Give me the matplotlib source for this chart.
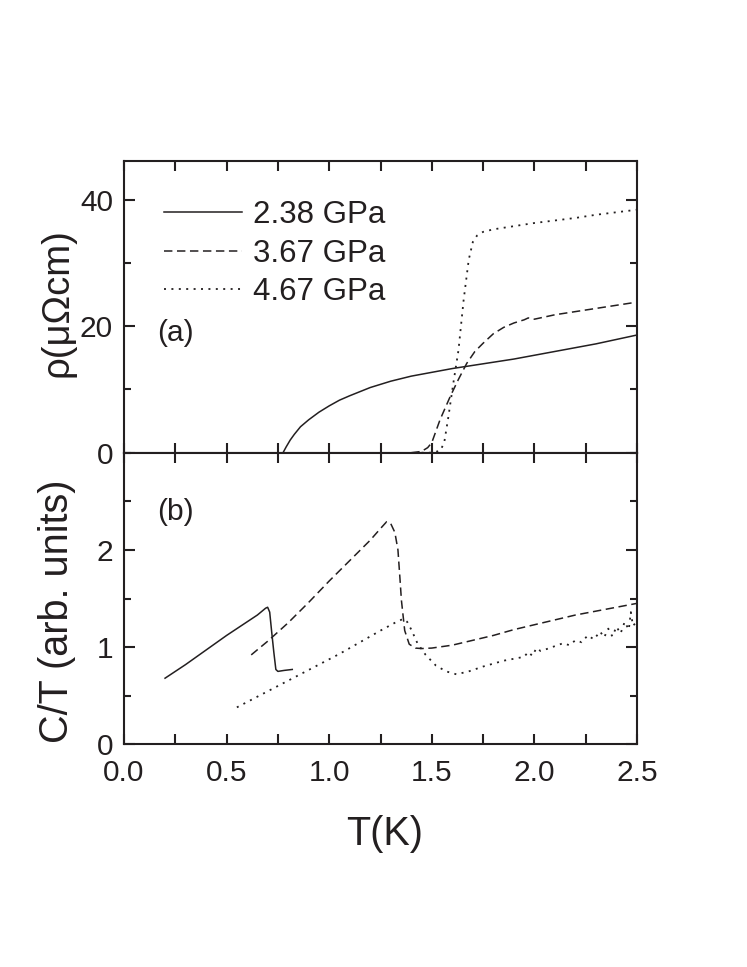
import matplotlib
matplotlib.use("Agg")
import matplotlib.pyplot as plt
from matplotlib.ticker import MultipleLocator

plt.rcParams['font.family'] = ['Liberation Sans', 'DejaVu Sans']
INK = '#231f20'

# ---------------- data: (a) resistivity ----------------
rho_labels = ["2.38 GPa", "3.67 GPa", "4.67 GPa"]

T_rho_238 = [0.775, 0.79, 0.81, 0.83, 0.86, 0.90, 0.95, 1.00, 1.05, 1.10, 1.20, 1.30,
             1.40, 1.50, 1.60, 1.70, 1.80, 1.90, 2.00, 2.10, 2.20, 2.30, 2.40, 2.50]
rho_238 = [0.0, 0.9, 2.0, 2.9, 4.1, 5.2, 6.4, 7.4, 8.3, 9.0, 10.3, 11.3,
           12.1, 12.7, 13.3, 13.8, 14.3, 14.8, 15.4, 16.0, 16.6, 17.2, 17.9, 18.6]

T_rho_367 = [1.40, 1.45, 1.48, 1.50, 1.54, 1.59, 1.63, 1.67, 1.71, 1.75, 1.80, 1.85,
             1.90, 1.95, 1.97, 2.00, 2.10, 2.20, 2.30, 2.40, 2.50]
rho_367 = [0.0, 0.2, 0.8, 1.6, 5.2, 8.9, 11.6, 14.1, 16.0, 17.3, 18.8, 19.8,
           20.5, 21.0, 21.3, 21.1, 21.8, 22.3, 22.8, 23.3, 23.8]

T_rho_467 = [1.45, 1.50, 1.54, 1.56, 1.58, 1.605, 1.63, 1.655, 1.68, 1.70, 1.72, 1.75,
             1.80, 1.90, 2.00, 2.10, 2.20, 2.30, 2.40, 2.50]
rho_467 = [0.0, 0.0, 0.3, 1.5, 5.5, 11.0, 16.2, 24.1, 30.5, 33.3, 34.3, 34.9,
           35.3, 35.8, 36.3, 36.7, 37.1, 37.6, 38.0, 38.4]

# ---------------- data: (b) specific heat C/T ----------------
T_c_238 = [0.20, 0.30, 0.40, 0.50, 0.60, 0.65, 0.69, 0.70, 0.71, 0.72, 0.73, 0.74,
           0.75, 0.78, 0.82]
c_238 = [0.68, 0.82, 0.97, 1.12, 1.26, 1.33, 1.40, 1.41, 1.36, 1.15, 0.95, 0.77,
         0.75, 0.76, 0.77]

T_c_367 = [0.62, 0.70, 0.80, 0.90, 1.00, 1.10, 1.20, 1.25, 1.28, 1.30, 1.32, 1.335,
           1.345, 1.352, 1.368, 1.39, 1.42, 1.45, 1.50, 1.60, 1.70, 1.80, 1.90,
           2.00, 2.10, 2.20, 2.30, 2.40, 2.50]
c_367 = [0.92, 1.06, 1.25, 1.46, 1.68, 1.89, 2.10, 2.22, 2.29, 2.27, 2.18, 2.00,
         1.70, 1.48, 1.17, 1.03, 0.99, 0.985, 0.99, 1.02, 1.07, 1.12, 1.18,
         1.23, 1.28, 1.33, 1.37, 1.41, 1.45]

T_c_467 = [0.55, 0.65, 0.75, 0.85, 0.95, 1.05, 1.15, 1.25, 1.32, 1.36, 1.38, 1.40,
           1.43, 1.47, 1.52, 1.57, 1.62, 1.68, 1.75, 1.85, 1.95, 1.97, 1.99, 2.01,
           2.03, 2.06, 2.10, 2.14, 2.17, 2.20, 2.23, 2.26, 2.29, 2.32, 2.34, 2.36,
           2.38, 2.40, 2.42, 2.44, 2.46, 2.47, 2.48, 2.50]
c_467 = [0.38, 0.49, 0.60, 0.71, 0.82, 0.93, 1.05, 1.17, 1.25, 1.29, 1.26, 1.18,
         1.04, 0.92, 0.81, 0.75, 0.72, 0.75, 0.80, 0.86, 0.90, 0.95, 0.91, 0.99,
         0.96, 0.98, 1.01, 1.04, 1.02, 1.07, 1.05, 1.12, 1.08, 1.16, 1.10, 1.19,
         1.11, 1.21, 1.14, 1.26, 1.18, 1.36, 1.22, 1.26]

# ---------------- figure ----------------
W, H = 747, 967
fig = plt.figure(figsize=(W / 100, H / 100), dpi=100)
ax1 = fig.add_axes([124 / W, 514.3 / H, 513 / W, 291.7 / H])
ax2 = fig.add_axes([124 / W, 222.7 / H, 513 / W, 291.6 / H])

styles = [dict(linestyle='-', lw=1.1),
          dict(linestyle=(0, (5.5, 3.0)), lw=1.1),
          dict(linestyle=(0, (1.1, 3.0)), lw=1.3)]

for (T, r), lab, st in zip([(T_rho_238, rho_238), (T_rho_367, rho_367), (T_rho_467, rho_467)],
                           rho_labels, styles):
    ax1.plot(T, r, color=INK, label=lab, **st)

for (T, c), st in zip([(T_c_238, c_238), (T_c_367, c_367), (T_c_467, c_467)], styles):
    ax2.plot(T, c, color=INK, **st)

ax1.set_xlim(0, 2.5)
ax2.set_xlim(0, 2.5)
ax1.set_ylim(0, 46.1)
ax2.set_ylim(0, 3.0)

ax1.yaxis.set_major_locator(MultipleLocator(20))
ax1.yaxis.set_minor_locator(MultipleLocator(10))
ax2.yaxis.set_major_locator(MultipleLocator(1))
ax2.yaxis.set_minor_locator(MultipleLocator(0.5))
for ax in (ax1, ax2):
    ax.xaxis.set_major_locator(MultipleLocator(0.5))
    ax.xaxis.set_minor_locator(MultipleLocator(0.25))
    for s in ax.spines.values():
        s.set_linewidth(1.5)
        s.set_color(INK)
    ax.tick_params(which='both', direction='in', top=True, right=True,
                   width=1.5, color=INK, labelcolor=INK, labelsize=21.5)
    ax.tick_params(axis='y', which='major', length=8, pad=8)
    ax.tick_params(axis='y', which='minor', length=5)
    ax.tick_params(axis='x', which='both', length=7.5, pad=10.5)

ax1.tick_params(axis='x', which='both', labelbottom=False)
ax1.set_yticks([0, 20, 40])
ax2.set_yticks([0, 1, 2])
ax2.set_xticks([0.0, 0.5, 1.0, 1.5, 2.0, 2.5])
ax2.set_xticklabels(["0.0", "0.5", "1.0", "1.5", "2.0", "2.5"])

leg = ax1.legend(loc='upper left', bbox_to_anchor=(0.077, 0.865), frameon=False,
                 fontsize=22.5, handlelength=2.5, handletextpad=0.36,
                 labelspacing=0.27, borderpad=0, borderaxespad=0)
for t in leg.get_texts():
    t.set_color(INK)

ax1.text(0.064, 0.41, "(a)", transform=ax1.transAxes, fontsize=21.5, color=INK,
         ha='left', va='center')
ax2.text(0.064, 0.797, "(b)", transform=ax2.transAxes, fontsize=21.5, color=INK,
         ha='left', va='center')

fig.text(385 / W, (H - 845) / H, "T(K)", fontsize=28.5, color=INK,
         ha='center', va='baseline')
fig.text(58 / W, (H - 303) / H, "ρ(μΩcm)", fontsize=27.5, color=INK,
         rotation=90, ha='center', va='center')
fig.text(57 / W, (H - 611) / H, "C/T (arb. units)", fontsize=28.5, color=INK,
         rotation=90, ha='center', va='center')

fig.savefig("out.png", dpi=100, facecolor='white')
